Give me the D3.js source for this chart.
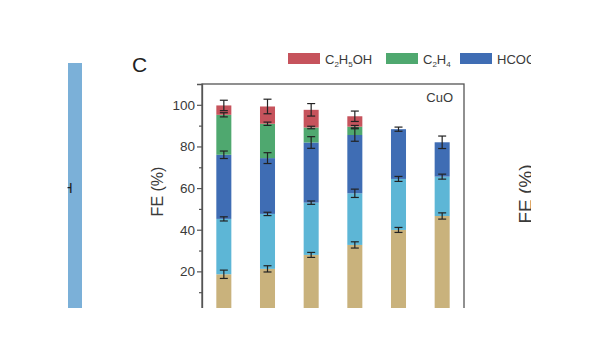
<!DOCTYPE html>
<html>
<head>
<meta charset="utf-8">
<script src="https://cdn.jsdelivr.net/npm/d3@7"></script>
<style>
  html, body { margin: 0; padding: 0; background: #fff; }
  svg { display: block; font-family: "Liberation Sans", Arial, sans-serif; }
</style>
</head>
<body>
<div id="vis-container"></div>
<script>
/* FE stacked bars, CuO */

const samples = ["1", "2", "3", "4", "5", "6"];
const products = ["H2", "CO", "HCOO", "C2H4", "C2H5OH"];

// segment heights (%) per sample, bottom to top
const h2 = [18.6, 21.2, 27.9, 32.7, 39.9, 46.6];
const co = [26.6, 26.4, 25.1, 24.8, 24.5, 18.9];
const hcoo = [30.8, 26.8, 28.9, 28.0, 23.9, 16.5];
const c2h4 = [19.2, 16.5, 7.2, 4.0, 0, 0];
const c2h5oh = [4.5, 8.3, 8.5, 5.0, 0, 0];

// error bar half-widths (%)
const h2Err = [2.0, 1.5, 1.2, 1.5, 1.2, 1.5];
const coErr = [1.0, 0.8, 0.8, 2.0, 1.2, 1.2];
const hcooErr = [1.8, 2.6, 2.8, 3.0, 1.0, 3.0];
const c2h4Err = [1.0, 0.8, 0.6, 0.6, 0, 0];
const c2h5ohErr = [2.5, 3.5, 3.0, 2.5, 0, 0];

const yTicks = [0, 20, 40, 60, 80, 100];
const yMinor = [10, 30, 50, 70, 90];

const colors = ["#c9b27c", "#5db6d6", "#3f6db4", "#4fa86f", "#c6535c"];

const legendItems = [
	{ key: "C2H5OH", parts: [["C", 0], ["2", 1], ["H", 0], ["5", 1], ["OH", 0]], color: colors[4] },
	{ key: "C2H4", parts: [["C", 0], ["2", 1], ["H", 0], ["4", 1]], color: colors[3] },
	{ key: "HCOO", parts: [["HCOO", 0], ["\u2212", 2]], color: colors[2] }
];

const rows = samples.map((s, i) => ({
	sample: s,
	H2: h2[i], CO: co[i], HCOO: hcoo[i], C2H4: c2h4[i], C2H5OH: c2h5oh[i]
}));
const errs = [h2Err, coErr, hcooErr, c2h4Err, c2h5ohErr];

const width = 600, height = 338;
const textColor = "#3a3a3a", axisColor = "#555";

let svg = d3.select("#vis-container")
	.append("svg")
	.attr("width", width)
	.attr("height", height);

let x = d3.scaleBand()
	.domain(samples)
	.range([202, 464])
	.paddingInner(0.656)
	.paddingOuter(0.328);

let y = d3.scaleLinear().domain([0, 110]).range([313, 84]);

let stacked = d3.stack().keys(products)(rows);

// bars
let g = svg.append("g");
stacked.forEach((layer, k) => {
	g.append("g")
		.attr("fill", colors[k])
		.selectAll("rect")
		.data(layer.filter(d => d[1] - d[0] > 0))
		.join("rect")
		.attr("x", d => x(d.data.sample))
		.attr("width", x.bandwidth())
		.attr("y", d => y(d[1]))
		.attr("height", d => y(d[0]) - y(d[1]));
});

// error bars on top of every segment
let capW = 8;
stacked.forEach((layer, k) => {
	layer.forEach((d, i) => {
		let e = errs[k][i];
		if (d[1] - d[0] <= 0 || e <= 0) return;
		let cx = x(d.data.sample) + x.bandwidth() / 2;
		let eb = g.append("g").attr("stroke", "#222").attr("stroke-width", 1.2);
		eb.append("line").attr("x1", cx).attr("x2", cx).attr("y1", y(d[1] + e)).attr("y2", y(d[1] - e));
		eb.append("line").attr("x1", cx - capW / 2).attr("x2", cx + capW / 2).attr("y1", y(d[1] + e)).attr("y2", y(d[1] + e));
		eb.append("line").attr("x1", cx - capW / 2).attr("x2", cx + capW / 2).attr("y1", y(d[1] - e)).attr("y2", y(d[1] - e));
	});
});

// frame
svg.append("rect")
	.attr("x", 202).attr("y", y(110))
	.attr("width", 262).attr("height", y(0) - y(110))
	.attr("fill", "none")
	.attr("stroke", axisColor)
	.attr("stroke-width", 1.3);

// y axis
let yAxis = svg.append("g")
	.attr("transform", "translate(202,0)")
	.call(d3.axisLeft(y).tickValues(yTicks).tickSize(5).tickPadding(2));
yAxis.select(".domain").attr("stroke", axisColor).attr("stroke-width", 1.3);
yAxis.selectAll(".tick line").attr("stroke", axisColor).attr("stroke-width", 1.2);
yAxis.selectAll(".tick text")
	.attr("fill", textColor)
	.style("font-size", "13.5px")
	.style("font-family", "'Liberation Sans', Arial, sans-serif");

svg.append("g")
	.attr("transform", "translate(202,0)")
	.call(d3.axisLeft(y).tickValues(yMinor).tickSize(3).tickFormat(""))
	.call(a => a.select(".domain").remove())
	.selectAll(".tick line").attr("stroke", axisColor).attr("stroke-width", 1.2);

svg.append("text")
	.attr("transform", "translate(163,191.5) rotate(-90)")
	.attr("text-anchor", "middle")
	.attr("fill", textColor)
	.style("font-size", "16px")
	.text("FE (%)");

svg.append("text")
	.attr("x", 453).attr("y", 101.5)
	.attr("text-anchor", "end")
	.attr("fill", textColor)
	.style("font-size", "13px")
	.text("CuO");

svg.append("text")
	.attr("x", 132).attr("y", 72)
	.attr("fill", "#222")
	.style("font-size", "21px")
	.text("C");

// legend
let legendX = [288, 386, 460];
let shift = { 0: 0, 1: 3, 2: -5 };
legendItems.forEach((item, i) => {
	let lg = svg.append("g").attr("transform", `translate(${legendX[i]},53)`);
	lg.append("rect").attr("width", 32).attr("height", 11).attr("fill", item.color);
	let t = lg.append("text")
		.attr("x", 37).attr("y", 10.5)
		.attr("fill", textColor)
		.style("font-size", "13px");
	item.parts.forEach((p, j) => {
		let prev = j > 0 ? item.parts[j - 1][1] : 0;
		let ts = t.append("tspan").text(p[0]).attr("dy", shift[p[1]] - shift[prev]);
		if (p[1] !== 0) ts.style("font-size", "8px");
	});
});

// neighbouring panels at the edges
svg.append("rect").attr("x", 68).attr("y", 63).attr("width", 14).attr("height", 245).attr("fill", "#7bb0d8");
svg.append("text")
	.attr("x", 72.5).attr("y", 193)
	.attr("text-anchor", "end")
	.attr("fill", "#1e1e1e")
	.style("font-size", "14px")
	.text("OH");
svg.append("rect").attr("x", 0).attr("y", 0).attr("width", 67.5).attr("height", height).attr("fill", "#fff");

svg.append("text")
	.attr("transform", "translate(532,194) rotate(-90)")
	.attr("text-anchor", "middle")
	.attr("fill", textColor)
	.style("font-size", "19px")
	.text("FE (%)");

// crop edges
svg.append("rect").attr("x", 531).attr("y", 0).attr("width", width - 531).attr("height", height).attr("fill", "#fff");
svg.append("rect").attr("x", 0).attr("y", 308).attr("width", width).attr("height", height - 308).attr("fill", "#fff");
</script>
</body>
</html>
